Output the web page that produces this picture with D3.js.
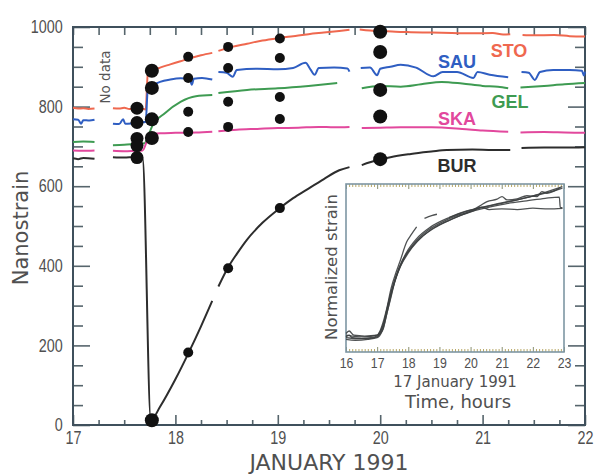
<!DOCTYPE html>
<html>
<head>
<meta charset="utf-8">
<script src="https://cdn.jsdelivr.net/npm/d3@7"></script>
<style>
  html, body { margin: 0; padding: 0; background: #fff; }
  svg { display: block; }
</style>
</head>
<body>
<svg id="chart" width="597" height="474"></svg>
<script>
// ---- Strain records, January 1991 (day of month, nanostrain); null = gap in record ----
const stationNames = ["STO", "SAU", "GEL", "SKA", "BUR"];
const stationColors = ["#ef684f", "#2f5ec2", "#3e9b52", "#e2489d", "#2d2d2d"];

const stoSeries = [[17.00,797],[17.05,795],[17.10,796],[17.15,794],[17.21,795],null,
  [17.39,796],[17.45,795],[17.50,797],[17.55,794],[17.60,795],[17.66,795],[17.71,793],[17.73,880],[17.77,888],
  [17.85,898],[17.95,906],[18.05,914],[18.15,922],[18.25,929],[18.36,935],null,
  [18.42,940],[18.55,950],[18.70,958],[18.85,966],[19.00,972],[19.15,977],[19.30,982],[19.45,986],[19.60,990],[19.70,993],null,
  [19.80,994],[19.90,991],[20.00,990],[20.15,988],[20.30,987],[20.50,986],[20.70,985],[20.90,984],[21.10,985],[21.20,981],[21.27,982],null,
  [21.39,980],[21.50,979],[21.70,980],[21.85,977],[22.00,976]];

const sauSeries = [[17.00,768],[17.05,767],[17.08,757],[17.10,766],[17.16,765],[17.21,767],null,
  [17.39,757],[17.45,756],[17.49,768],[17.51,757],[17.58,758],[17.66,760],[17.71,762],[17.73,842],[17.77,852],
  [17.85,862],[17.95,868],[18.05,871],[18.14,870],[18.16,855],[18.18,870],[18.26,872],[18.36,868],null,
  [18.42,887],[18.50,885],[18.56,875],[18.60,892],[18.80,895],[19.00,894],[19.15,897],[19.27,910],[19.32,893],[19.36,880],
  [19.40,897],[19.55,898],[19.68,896],[19.70,888],null,
  [19.81,897],[19.90,898],[19.97,879],[20.00,895],[20.10,900],[20.20,905],[20.35,898],[20.52,876],[20.61,887],[20.75,887],
  [20.91,872],[20.95,887],[21.07,880],[21.25,874],null,
  [21.38,887],[21.45,885],[21.51,867],[21.56,887],[21.69,892],[21.85,892],[21.97,890],[21.99,878],[22.00,888]];

const gelSeries = [[17.00,711],[17.10,712],[17.21,711],null,
  [17.39,703],[17.50,704],[17.60,706],[17.70,708],[17.72,716],[17.77,749],[17.90,784],[18.05,812],[18.20,826],[18.36,829],null,
  [18.42,834],[18.70,842],[19.00,846],[19.30,852],[19.58,859],null,
  [19.82,846],[20.00,852],[20.20,850],[20.40,856],[20.60,862],[20.80,858],[21.00,852],[21.15,850],[21.25,846],null,
  [21.37,848],[21.60,852],[21.80,856],[22.00,859]];

const skaSeries = [[17.00,690],[17.10,689],[17.21,690],null,
  [17.39,689],[17.50,688],[17.60,689],[17.68,690],[17.72,712],[17.75,730],[17.85,733],[18.00,734],[18.20,735],[18.36,737],null,
  [18.42,738],[18.60,742],[18.80,744],[19.00,746],[19.20,747],[19.40,749],[19.55,748],[19.70,749],null,
  [19.82,746],[20.00,747],[20.20,748],[20.50,748],[20.80,744],[21.00,740],[21.25,737],null,
  [21.37,735],[21.60,736],[21.80,735],[22.00,734]];

const burSeries = [[17.00,670],[17.05,668],[17.10,671],[17.21,669],null,
  [17.39,673],[17.50,672],[17.60,673],[17.68,670],[17.76,12],[17.85,46],[18.00,115],[18.13,182],[18.25,248],[18.36,312],null,
  [18.42,348],[18.51,394],[18.60,430],[18.70,466],[18.85,508],[19.02,545],[19.15,570],[19.28,591],[19.45,618],[19.60,640],[19.70,648],null,
  [19.82,653],[19.90,660],[20.00,667],[20.10,673],[20.30,681],[20.50,687],[20.65,691],[20.90,692],[21.10,691],[21.27,691],null,
  [21.38,696],[21.60,697],[21.80,697],[22.00,698]];

// Model values (black dots) at selected times
const dotTimes = [17.625, 17.77, 18.125, 18.515, 19.02, 20.0];
const dotRadius = [6.5, 7, 5, 5, 5, 7];
const stoDots = [796, 890, 925, 950, 971, 988];
const sauDots = [760, 847, 872, 897, 922, 937];
const gelDots = [720, 768, 787, 812, 824, 842];
const skaDots = [702, 721, 736, 749, 769, 775];
const burDots = [672, 12, 182, 394, 545, 668];

// Axis ticks
const yTickLabels = [0, 200, 400, 600, 800, 1000];
const xTickLabels = [17, 18, 19, 20, 21, 22];
const insetTickLabels = [16, 17, 18, 19, 20, 21, 22, 23];

// ---- Inset: normalized strain, 17 January 1991 (hour UT, normalized) ----
const insetA = [[16.0,0.09],[16.1,0.10],[16.2,0.085],[16.5,0.08],[16.8,0.085],[17.0,0.095],[17.1,0.11],[17.2,0.14],[17.3,0.22],
  [17.41,0.30],[17.57,0.42],[17.73,0.51],[17.95,0.595],[18.27,0.675],[18.7,0.742],[19.34,0.802],[19.98,0.843],[20.5,0.865],
  [21.0,0.885],[21.5,0.905],[22.0,0.928],[22.5,0.95],[22.95,0.976]];
const insetB = [[16.0,0.075],[16.3,0.07],[16.7,0.075],[17.0,0.085],[17.15,0.12],[17.25,0.18],[17.35,0.26],[17.45,0.34],[17.6,0.44],
  [17.75,0.51],[18.0,0.59],[18.3,0.66],[18.7,0.725],[19.2,0.775],[19.7,0.815],[20.1,0.84],[20.35,0.862],[20.6,0.848],[21.0,0.852],
  [21.5,0.848],[22.0,0.856],[22.5,0.852],[22.95,0.855]];
const insetC = [[16.0,0.10],[16.2,0.095],[16.6,0.09],[17.0,0.10],[17.12,0.13],[17.22,0.18],[17.32,0.26],[17.45,0.36],[17.6,0.45],
  [17.8,0.54],[18.05,0.61],[18.4,0.68],[18.9,0.745],[19.4,0.79],[20.0,0.835],[20.6,0.862],[21.2,0.885],[21.8,0.9],[22.4,0.915],
  [22.85,0.922],[22.88,0.862],[22.95,0.858]];
const insetD = [[16.0,0.085],[16.3,0.08],[16.7,0.08],[17.0,0.09],[17.1,0.115],[17.2,0.16],[17.3,0.24],[17.42,0.33],[17.55,0.41],
  [17.7,0.49],[17.9,0.57],[18.2,0.65],[18.6,0.72],[19.1,0.775],[19.6,0.815],[20.0,0.838],[20.3,0.87],[20.53,0.895],[20.85,0.91],
  [21.01,0.925],[21.17,0.905],[21.49,0.912],[21.81,0.93],[22.13,0.925],[22.29,0.955],[22.45,0.945],[22.87,0.978]];
const insetE = [[16.0,0.11],[16.1,0.125],[16.25,0.10],[16.6,0.095],[17.0,0.10],[17.08,0.12],[17.18,0.17],[17.31,0.26],[17.45,0.38],
  [17.6,0.47],[17.73,0.537],[17.95,0.656],[18.1,0.70],[18.27,0.745],null,
  [18.52,0.795],[18.75,0.812],[18.92,0.82],null,
  [19.3,0.80],[19.8,0.835],[20.4,0.862],[21.0,0.888],[21.6,0.91],[22.2,0.94],[22.95,0.985]];

// ---- Drawing ----
const svg = d3.select("#chart");
const frameColor = "#3f505c";
const tickColor = "#56656c";
const textColor = "#505050";
const tickFont = "'Liberation Sans', Arial, sans-serif";
const narrow = "scale(0.82,1)";   // condensed numerals
const wideFont = "'DejaVu Sans', Verdana, sans-serif";

const x = d3.scaleLinear().domain([17, 22]).range([73, 585]);
const y = d3.scaleLinear().domain([0, 1000]).range([425, 27]);

// axes with inward ticks
function styleAxis(g) {
  g.select(".domain").remove();
  g.selectAll(".tick line").attr("stroke", tickColor).attr("stroke-width", 1.6);
}

const yMinor = d3.range(0, 1001, 50);
const xMinor = d3.range(17, 22.001, 0.25);

svg.append("g").attr("transform", `translate(${x.range()[0]},0)`)
  .call(d3.axisLeft(y).tickValues(yMinor).tickSizeInner(-10).tickSizeOuter(0).tickPadding(12.5)
    .tickFormat(d => yTickLabels.includes(d) ? d : ""))
  .call(styleAxis)
  .call(g => g.selectAll(".tick line").filter(d => yTickLabels.includes(d)).attr("x2", 17))
  .call(g => g.selectAll(".tick text").attr("font-family", tickFont).attr("font-size", 17.5)
    .attr("fill", textColor).attr("transform", narrow));

svg.append("g").attr("transform", `translate(${x.range()[1]},0)`)
  .call(d3.axisRight(y).tickValues(yMinor).tickSizeInner(-10).tickSizeOuter(0).tickFormat(""))
  .call(styleAxis)
  .call(g => g.selectAll(".tick line").filter(d => yTickLabels.includes(d)).attr("x2", -17));

svg.append("g").attr("transform", `translate(0,${y.range()[0]})`)
  .call(d3.axisBottom(x).tickValues(xMinor).tickSizeInner(-5).tickSizeOuter(0).tickPadding(7)
    .tickFormat(d => xTickLabels.includes(d) ? d : ""))
  .call(styleAxis)
  .call(g => g.selectAll(".tick line").filter(d => Number.isInteger(d)).attr("y2", -10))
  .call(g => g.selectAll(".tick text").attr("font-family", tickFont).attr("font-size", 17.5)
    .attr("fill", textColor).attr("transform", narrow));

svg.append("g").attr("transform", `translate(0,${y.range()[1]})`)
  .call(d3.axisTop(x).tickValues(xMinor).tickSizeInner(-8).tickSizeOuter(0).tickFormat(""))
  .call(styleAxis);

// frame
svg.append("rect")
  .attr("x", x.range()[0]).attr("y", y.range()[1])
  .attr("width", x.range()[1] - x.range()[0]).attr("height", y.range()[0] - y.range()[1])
  .attr("fill", "none").attr("stroke", frameColor).attr("stroke-width", 2);

// station records
const allSeries = [stoSeries, sauSeries, gelSeries, skaSeries, burSeries];
const line = d3.line()
  .defined(d => d !== null)
  .x(d => x(d[0])).y(d => y(d[1]))
  .curve(d3.curveMonotoneX);

svg.append("g").selectAll("path").data(allSeries).join("path")
  .attr("d", line)
  .attr("fill", "none")
  .attr("stroke", (d, i) => stationColors[i])
  .attr("stroke-width", 2)
  .attr("stroke-linejoin", "round");

// model dots
const allDots = [stoDots, sauDots, gelDots, skaDots, burDots];
const dotData = [];
allDots.forEach(vals => vals.forEach((v, j) => dotData.push({ t: dotTimes[j], v, r: dotRadius[j] })));
svg.append("g").selectAll("circle").data(dotData).join("circle")
  .attr("cx", d => x(d.t)).attr("cy", d => y(d.v)).attr("r", d => d.r)
  .attr("fill", "#111");

// station labels
const labelPos = [[509, 57], [457, 68], [510, 108], [457, 125], [457, 172]];
svg.append("g").selectAll("text").data(stationNames).join("text")
  .attr("x", (d, i) => labelPos[i][0]).attr("y", (d, i) => labelPos[i][1])
  .attr("text-anchor", "middle")
  .attr("font-family", "'Liberation Sans', Arial, sans-serif")
  .attr("font-weight", "bold").attr("font-size", 18)
  .attr("fill", (d, i) => stationColors[i])
  .text(d => d);

// annotations
svg.append("text").attr("transform", "translate(110,77) rotate(-90)")
  .attr("text-anchor", "middle").attr("font-family", wideFont).attr("font-size", 13.5)
  .attr("fill", "#555").text("No data");

svg.append("text").attr("transform", "translate(28,228) rotate(-90)")
  .attr("text-anchor", "middle").attr("font-family", wideFont).attr("font-size", 21)
  .attr("fill", textColor).text("Nanostrain");

svg.append("text").attr("x", 329).attr("y", 470)
  .attr("text-anchor", "middle").attr("font-family", wideFont).attr("font-size", 22)
  .attr("fill", textColor).text("JANUARY 1991");

// ---- Inset ----
const xi = d3.scaleLinear().domain([16, 23]).range([346, 564]);
const yi = d3.scaleLinear().domain([0, 1]).range([352, 184]);
const inset = svg.append("g");

inset.append("rect")
  .attr("x", xi.range()[0]).attr("y", yi.range()[1])
  .attr("width", xi.range()[1] - xi.range()[0]).attr("height", yi.range()[0] - yi.range()[1])
  .attr("fill", "#fff");

const insetTicks = d3.range(0, 71).map(i => 16 + i / 10);
const onHour = d => Number.isInteger(Math.round(d * 10) / 10);
function styleInsetAxis(g) {
  g.select(".domain").remove();
  g.selectAll(".tick line").attr("stroke", "#b9a968").attr("stroke-width", 1);
  g.selectAll(".tick line").filter(onHour).attr("stroke", "#8a9070");
}
inset.append("g").attr("transform", `translate(0,${yi.range()[0]})`)
  .call(d3.axisBottom(xi).tickValues(insetTicks).tickSizeInner(-3).tickSizeOuter(0).tickPadding(5)
    .tickFormat(d => { const r = Math.round(d * 10) / 10; return insetTickLabels.includes(r) ? r : ""; }))
  .call(styleInsetAxis)
  .call(g => g.selectAll(".tick line").filter(onHour).attr("y2", -5))
  .call(g => g.selectAll(".tick text").attr("font-family", tickFont).attr("font-size", 15)
    .attr("fill", textColor).attr("transform", narrow));

inset.append("g").attr("transform", `translate(0,${yi.range()[1]})`)
  .call(d3.axisTop(xi).tickValues(insetTicks).tickSizeInner(-3).tickSizeOuter(0).tickFormat(""))
  .call(styleInsetAxis)
  .call(g => g.selectAll(".tick line").filter(onHour).attr("y2", 5));

inset.append("rect")
  .attr("x", xi.range()[0]).attr("y", yi.range()[1])
  .attr("width", xi.range()[1] - xi.range()[0]).attr("height", yi.range()[0] - yi.range()[1])
  .attr("fill", "none").attr("stroke", "#7e96a3").attr("stroke-width", 1.6);

const insetLine = d3.line()
  .defined(d => d !== null)
  .x(d => xi(d[0])).y(d => yi(d[1]))
  .curve(d3.curveMonotoneX);

inset.append("g").selectAll("path").data([insetB, insetC, insetD, insetE, insetA]).join("path")
  .attr("d", insetLine)
  .attr("fill", "none").attr("stroke", "#3c3f40").attr("stroke-width", 1.3)
  .attr("stroke-opacity", 0.9);

inset.append("text").attr("transform", "translate(337,267) rotate(-90)")
  .attr("text-anchor", "middle").attr("font-family", wideFont).attr("font-size", 16.5)
  .attr("fill", textColor).text("Normalized strain");

inset.append("text").attr("x", 455).attr("y", 387)
  .attr("text-anchor", "middle").attr("font-family", wideFont).attr("font-size", 15)
  .attr("fill", textColor).text("17 January 1991");

inset.append("text").attr("x", 458).attr("y", 408)
  .attr("text-anchor", "middle").attr("font-family", wideFont).attr("font-size", 18)
  .attr("fill", textColor).text("Time, hours");
</script>
</body>
</html>
